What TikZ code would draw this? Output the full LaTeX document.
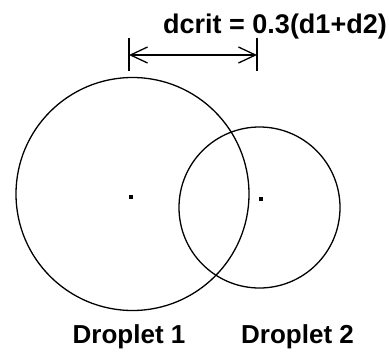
\documentclass[tikz,border=0pt]{standalone}
\usepackage{fontspec}
\setmainfont{Liberation Sans}
\usetikzlibrary{arrows.meta}
\begin{document}
\begin{tikzpicture}[x=1pt,y=-1pt,
  drop/.style={circle,draw,line width=1.3pt,inner sep=0pt},
  ctr/.style={fill=black,inner sep=0pt,minimum size=3.2pt},
  lbl/.style={font=\fontsize{26}{28}\selectfont\bfseries,inner sep=0pt,anchor=base},
  tick/.style={line width=1.3pt},
  dim/.style={line width=1.3pt,{Straight Barb[length=17pt,width=16pt,line width=1.3pt]}-{Straight Barb[length=17pt,width=16pt,line width=1.3pt]}}]
\useasboundingbox (0,0) rectangle (389,354);
\node[drop,minimum size=233pt] (c1) at (132.5,194) {};
\node[drop,minimum size=161pt] (c2) at (259.5,207.5) {};
\node[ctr] (p1) at (131,197) {};
\node[ctr] (p2) at (261,199) {};
\coordinate (t1a) at (129,38);
\coordinate (t1b) at (129,71);
\coordinate (t2a) at (257,38);
\coordinate (t2b) at (257,71);
\coordinate (a1) at (129,55);
\coordinate (a2) at (257,55);
\draw[tick] (t1a) -- (t1b);
\draw[tick] (t2a) -- (t2b);
\draw[dim] (a1) -- (a2);
\node[lbl,font=\fontsize{27}{29}\selectfont\bfseries] (eq) at (275,33) {dcrit = 0.3(d1+d2)};
\node[lbl] (l1) at (129,343) {Droplet 1};
\node[lbl] (l2) at (297.5,343) {Droplet 2};
\end{tikzpicture}
\end{document}
